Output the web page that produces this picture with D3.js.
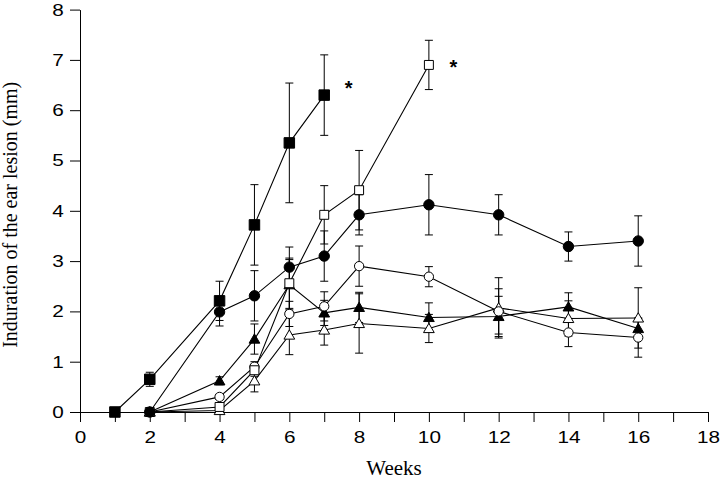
<!DOCTYPE html>
<html><head><meta charset="utf-8">
<script src="https://cdn.jsdelivr.net/npm/d3@7"></script>
<style>body{margin:0;background:#fff}</style>
</head><body>
<svg id="chart" width="720" height="480"></svg>
<script>
// ---- data ----
const fsqWeeks = [1, 2, 4, 5, 6, 7];
const fsqValues = [0, 0.65, 2.21, 3.72, 5.35, 6.30];
const fsqErr = [0, 0.14, 0.39, 0.8, 1.19, 0.8];

const osqWeeks = [2, 4, 5, 6, 7, 8, 10];
const osqValues = [0, 0.10, 0.83, 2.56, 3.92, 4.41, 6.90];
const osqErr = [0, 0.05, 0.12, 0.5, 0.58, 0.79, 0.49];

const fciWeeks = [2, 4, 5, 6, 7, 8, 10, 12, 14, 16];
const fciValues = [0, 1.99, 2.31, 2.88, 3.10, 3.92, 4.12, 3.92, 3.29, 3.40];
const fciErr = [0, 0.28, 0.5, 0.4, 0.5, 0.4, 0.6, 0.4, 0.29, 0.5];

const ociWeeks = [2, 4, 5, 6, 7, 8, 10, 12, 14, 16];
const ociValues = [0, 0.30, 0.90, 1.95, 2.10, 2.90, 2.69, 2.00, 1.58, 1.48];
const ociErr = [0, 0.05, 0.1, 0.25, 0.29, 0.4, 0.2, 0.45, 0.28, 0.39];

const ftrWeeks = [2, 4, 5, 6, 7, 8, 10, 12, 14, 16];
const ftrValues = [0, 0.62, 1.45, 2.53, 1.97, 2.08, 1.88, 1.90, 2.09, 1.66];
const ftrErr = [0, 0.08, 0.3, 0.5, 0.25, 0.3, 0.29, 0.4, 0.28, 0.2];

const otrWeeks = [2, 4, 5, 6, 7, 8, 10, 12, 14, 16];
const otrValues = [0, 0.03, 0.62, 1.53, 1.63, 1.76, 1.66, 2.07, 1.86, 1.87];
const otrErr = [0, 0.05, 0.22, 0.39, 0.3, 0.59, 0.28, 0.6, 0.35, 0.6];

const asteriskWeeks = [7.7, 10.7];
const asteriskValues = [6.52, 6.94];

const xTicks = [0,1,2,3,4,5,6,7,8,9,10,11,12,13,14,15,16,17,18];
const yTicks = [0,1,2,3,4,5,6,7,8];

// ---- build ----
const mk = (weeks, values, err) => weeks.map((w, i) => ({w, v: values[i], e: err[i]}));
const series = [
  {key: "otr", shape: "triangle", filled: false, pts: mk(otrWeeks, otrValues, otrErr)},
  {key: "ftr", shape: "triangle", filled: true, pts: mk(ftrWeeks, ftrValues, ftrErr)},
  {key: "oci", shape: "circle", filled: false, pts: mk(ociWeeks, ociValues, ociErr)},
  {key: "osq", shape: "square", filled: false, pts: mk(osqWeeks, osqValues, osqErr)},
  {key: "fci", shape: "circle", filled: true, pts: mk(fciWeeks, fciValues, fciErr)},
  {key: "fsq", shape: "square", filled: true, pts: mk(fsqWeeks, fsqValues, fsqErr)}
];

const svg = d3.select("#chart");
const x = d3.scaleLinear().domain([0, 18]).range([80, 708]);
const y = d3.scaleLinear().domain([0, 8]).range([412, 9.6]);

const sans = "'Liberation Sans', Arial, sans-serif";
const serif = "'Liberation Serif', 'Times New Roman', serif";
const stretch = 1.22;

// axes
const xAxis = svg.append("g").attr("transform", `translate(0,${y(0)})`)
  .call(d3.axisBottom(x).tickValues(xTicks).tickSize(10).tickSizeOuter(0).tickPadding(9)
    .tickFormat(d => d % 2 === 0 ? d : ""));
const yAxis = svg.append("g").attr("transform", `translate(${x(0)},0)`)
  .call(d3.axisLeft(y).tickValues(yTicks).tickSize(10).tickSizeOuter(0).tickPadding(3.2));
[xAxis, yAxis].forEach(a => {
  a.selectAll("path,line").attr("stroke", "#000").attr("stroke-width", 1);
  a.selectAll("text").attr("font-family", sans).attr("font-size", 17).attr("fill", "#000")
    .attr("transform", `scale(${stretch},1)`);
});

svg.append("text").attr("x", (x(0) + x(18)) / 2).attr("y", 475)
  .attr("text-anchor", "middle").attr("font-family", serif).attr("font-size", 21).text("Weeks");
svg.append("text").attr("transform", `translate(17,${(y(0) + y(8)) / 2 + 4}) rotate(-90)`)
  .attr("text-anchor", "middle").attr("font-family", serif).attr("font-size", 20)
  .text("Induration of the ear lesion (mm)");

const line = d3.line().x(d => x(d.w)).y(d => y(d.v));
const gLines = svg.append("g");
const gErr = svg.append("g");
const gMarks = svg.append("g");

series.forEach(s => {
  gLines.append("path").datum(s.pts).attr("d", line)
    .attr("fill", "none").attr("stroke", "#000").attr("stroke-width", 1.1);
  s.pts.filter(p => p.e > 0).forEach(p => {
    const cx = x(p.w), y1 = y(p.v + p.e), y2 = y(p.v - p.e);
    gErr.append("line").attr("x1", cx).attr("x2", cx).attr("y1", y1).attr("y2", y2)
      .attr("stroke", "#000").attr("stroke-width", 1);
    [y1, y2].forEach(yy => gErr.append("line").attr("x1", cx - 4).attr("x2", cx + 4)
      .attr("y1", yy).attr("y2", yy).attr("stroke", "#000").attr("stroke-width", 1));
  });
});

const sym = {
  square: d3.symbol().type(d3.symbolSquare),
  circle: d3.symbol().type(d3.symbolCircle),
  triangle: d3.symbol().type(d3.symbolTriangle)
};
const sizes = {square: {true: 110, false: 80}, circle: {true: 85, false: 68}, triangle: {true: 50, false: 50}};
series.forEach(s => {
  gMarks.selectAll(null).data(s.pts).join("path")
    .attr("transform", d => `translate(${x(d.w)},${y(d.v) + (s.shape === "triangle" ? 1 : 0)})`)
    .attr("d", sym[s.shape].size(sizes[s.shape][s.filled]))
    .attr("fill", s.filled ? "#000" : "#fff")
    .attr("stroke", "#000").attr("stroke-width", 1);
});

svg.append("g").selectAll("text").data(asteriskWeeks.map((w, i) => ({w, v: asteriskValues[i]})))
  .join("text").attr("x", d => x(d.w)).attr("y", d => y(d.v) + 11)
  .attr("text-anchor", "middle").attr("font-family", sans).attr("font-weight", "bold")
  .attr("font-size", 20).text("*");
</script>
</body></html>
